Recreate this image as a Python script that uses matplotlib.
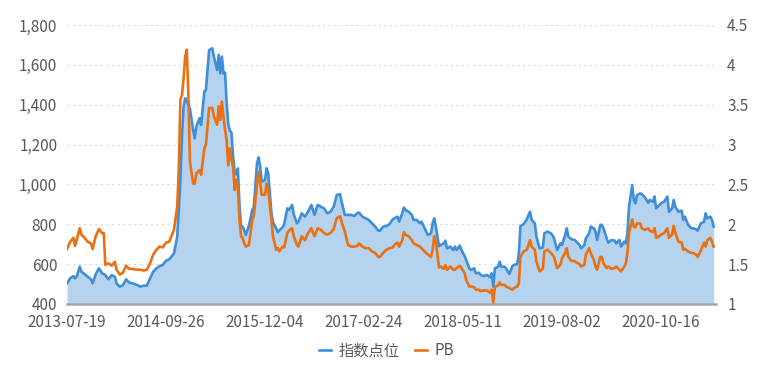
"""
指数点位 与 PB 走势图 (周数据, 2013-07-19 起)
"""

import numpy as np
import matplotlib
matplotlib.use('Agg')
import matplotlib.pyplot as plt
from matplotlib.ticker import FuncFormatter, MultipleLocator

plt.rcParams['font.family'] = ['Noto Sans CJK SC', 'DejaVu Sans']

# DATOS (semana desde 2013-07-19, índice, PB)
semanas = [0, 2, 4, 5, 6, 8, 9, 11, 13, 15, 16, 18, 20, 22, 23, 24, 26, 28, 30, 31,
           33, 35, 37, 39, 41, 44, 46, 48, 50, 52, 54, 56, 58, 60, 62, 64, 67, 69, 70, 71,
           72, 73, 74, 75, 76, 77, 79, 80, 81, 83, 84, 86, 87, 89, 91, 92, 94, 95, 96, 97,
           98, 99, 100, 101, 102, 103, 104, 105, 106, 107, 108, 109, 110, 111, 112, 114, 116, 117, 119, 120,
           121, 122, 124, 125, 126, 128, 129, 131, 132, 133, 135, 136, 138, 139, 141, 142, 144, 145, 147, 149,
           151, 153, 155, 157, 159, 161, 163, 165, 167, 169, 171, 172, 174, 176, 178, 180, 182, 183, 185, 187,
           189, 191, 193, 195, 196, 198, 200, 202, 204, 205, 207, 208, 210, 211, 212, 214, 216, 217, 219, 221,
           222, 224, 226, 228, 229, 230, 231, 233, 234, 236, 237, 238, 240, 242, 243, 244, 246, 247, 249, 250,
           252, 253, 255, 256, 258, 259, 261, 263, 265, 266, 267, 268, 270, 271, 272, 274, 275, 277, 279, 280,
           282, 283, 284, 286, 288, 290, 291, 293, 294, 296, 298, 299, 301, 303, 304, 305, 307, 309, 310, 312,
           313, 314, 316, 318, 319, 321, 322, 324, 325, 327, 328, 330, 331, 332, 334, 335, 336, 338, 339, 341,
           343, 344, 346, 347, 349, 350, 351, 352, 354, 355, 356, 357, 359, 360, 362, 364, 365, 367, 368, 369,
           371, 372, 374, 376, 377, 379, 380, 381, 383, 385, 386, 387, 389, 391, 392, 394, 395, 397, 399, 400,
           401, 403, 404, 405]

indice = [504, 529, 540, 529, 537, 587, 562, 550, 537, 524, 504, 550, 579, 554, 550, 545, 524, 545, 537, 504,
          487, 495, 524, 507, 504, 495, 487, 492, 492, 529, 562, 579, 590, 596, 617, 624, 654, 738, 872, 1022,
          1240, 1390, 1432, 1420, 1398, 1380, 1273, 1231, 1290, 1332, 1298, 1466, 1474, 1674, 1683, 1641, 1574, 1650, 1557, 1641,
          1557, 1560, 1407, 1300, 1270, 1260, 1139, 1060, 1050, 1080, 900, 790, 788, 770, 746, 795, 872, 888, 1106, 1136,
          1089, 1014, 1022, 1081, 1056, 860, 810, 780, 760, 770, 785, 800, 880, 872, 897, 850, 805, 813, 855, 838,
          863, 897, 847, 897, 888, 880, 855, 863, 888, 947, 951, 913, 847, 847, 847, 842, 858, 858, 838, 830,
          822, 805, 788, 768, 768, 788, 791, 801, 825, 830, 838, 813, 855, 884, 872, 863, 847, 822, 822, 805,
          813, 780, 746, 755, 805, 830, 788, 690, 696, 704, 718, 679, 688, 671, 688, 671, 693, 671, 641, 621,
          579, 571, 579, 554, 557, 546, 540, 546, 534, 554, 487, 579, 587, 612, 587, 587, 579, 550, 590, 596,
          601, 654, 791, 801, 825, 863, 822, 805, 738, 679, 683, 755, 763, 755, 746, 730, 671, 704, 696, 746,
          780, 738, 725, 721, 713, 696, 679, 696, 730, 755, 788, 780, 763, 721, 797, 797, 780, 730, 708, 721,
          718, 704, 721, 688, 713, 704, 755, 888, 997, 922, 905, 947, 955, 951, 935, 908, 922, 913, 939, 880,
          897, 905, 913, 939, 863, 880, 922, 888, 863, 868, 822, 838, 797, 780, 780, 775, 768, 805, 813, 855,
          830, 838, 822, 788]

pb = [1.69, 1.78, 1.83, 1.73, 1.80, 1.95, 1.87, 1.83, 1.78, 1.76, 1.69, 1.85, 1.94, 1.89, 1.89, 1.49, 1.51, 1.48, 1.53, 1.43,
      1.37, 1.39, 1.48, 1.44, 1.44, 1.43, 1.43, 1.42, 1.43, 1.51, 1.62, 1.68, 1.72, 1.71, 1.77, 1.78, 1.93, 2.22, 2.68, 3.56,
      3.62, 3.83, 4.10, 4.19, 3.64, 2.78, 2.51, 2.51, 2.64, 2.68, 2.62, 2.95, 3.00, 3.46, 3.46, 3.35, 3.25, 3.48, 3.31, 3.54,
      3.35, 3.18, 3.06, 2.74, 2.95, 2.81, 2.72, 2.43, 2.56, 2.47, 2.06, 1.85, 1.83, 1.76, 1.72, 1.74, 2.06, 2.10, 2.51, 2.66,
      2.51, 2.37, 2.37, 2.51, 2.43, 2.06, 1.85, 1.68, 1.70, 1.66, 1.72, 1.71, 1.89, 1.92, 1.95, 1.85, 1.74, 1.72, 1.85, 1.80,
      1.89, 1.95, 1.85, 1.95, 1.93, 1.89, 1.87, 1.89, 1.94, 2.08, 2.10, 2.03, 1.91, 1.74, 1.72, 1.72, 1.73, 1.76, 1.72, 1.70,
      1.70, 1.66, 1.64, 1.59, 1.59, 1.64, 1.68, 1.70, 1.71, 1.74, 1.77, 1.72, 1.80, 1.90, 1.87, 1.85, 1.80, 1.76, 1.74, 1.72,
      1.70, 1.66, 1.62, 1.59, 1.68, 1.85, 1.78, 1.46, 1.47, 1.44, 1.49, 1.43, 1.47, 1.43, 1.43, 1.45, 1.48, 1.45, 1.39, 1.30,
      1.22, 1.22, 1.21, 1.18, 1.18, 1.16, 1.17, 1.17, 1.14, 1.18, 1.02, 1.22, 1.23, 1.27, 1.24, 1.24, 1.22, 1.20, 1.18, 1.20,
      1.22, 1.26, 1.59, 1.66, 1.68, 1.80, 1.72, 1.68, 1.53, 1.41, 1.44, 1.66, 1.68, 1.64, 1.62, 1.59, 1.45, 1.49, 1.57, 1.64,
      1.70, 1.59, 1.54, 1.54, 1.52, 1.50, 1.47, 1.49, 1.62, 1.70, 1.64, 1.55, 1.47, 1.43, 1.59, 1.59, 1.51, 1.45, 1.47, 1.44,
      1.45, 1.47, 1.43, 1.41, 1.47, 1.51, 1.64, 1.89, 2.06, 1.97, 1.96, 2.01, 2.01, 1.95, 1.93, 1.95, 1.92, 1.90, 1.95, 1.83,
      1.85, 1.87, 1.89, 1.95, 1.83, 1.87, 1.98, 1.89, 1.78, 1.77, 1.68, 1.69, 1.66, 1.64, 1.64, 1.62, 1.59, 1.67, 1.77, 1.72,
      1.80, 1.83, 1.78, 1.72]

etiquetas_x = ['2013-07-19', '2014-09-26', '2015-12-04', '2017-02-24',
               '2018-05-11', '2019-08-02', '2020-10-16']

AZUL = '#3F8FD8'
RELLENO = '#B5D3EE'
NARANJA = '#EB700F'
GRIS_TXT = '#595959'

# GRÁFICO
fig = plt.figure(figsize=(7.73, 3.73), dpi=100)
ax = fig.add_axes([0.0867, 0.185, 0.8396, 0.748])
ax2 = ax.twinx()

ax.fill_between(semanas, indice, 400, color=RELLENO, linewidth=0, zorder=1)
ax.plot(semanas, indice, color=AZUL, linewidth=1.9, zorder=2, label='指数点位')
ax2.plot(semanas, pb, color=NARANJA, linewidth=1.9, zorder=3, label='PB')

ax.set_xlim(0, 406.5)
ax.set_ylim(400, 1800)
ax2.set_ylim(1, 4.5)

ax.yaxis.set_major_locator(MultipleLocator(200))
ax.yaxis.set_major_formatter(FuncFormatter(lambda v, p: f'{v:,.0f}'))
ax2.yaxis.set_major_locator(MultipleLocator(0.5))
ax2.yaxis.set_major_formatter(FuncFormatter(lambda v, p: f'{v:g}'))

ax.set_xticks(np.arange(len(etiquetas_x)) * 62)
ax.set_xticklabels(etiquetas_x)

# grid punteado
for v in range(600, 1801, 200):
    ax.axhline(v, color='#D9D9D9', linewidth=0.8, linestyle=(0, (2, 3)), zorder=0)

for a in (ax, ax2):
    for s in a.spines.values():
        s.set_visible(False)
    a.tick_params(length=0, labelsize=11, labelcolor=GRIS_TXT)
ax.tick_params(axis='y', pad=7)
ax2.tick_params(axis='y', pad=8)
ax.tick_params(axis='x', pad=7)

ax.spines['bottom'].set_visible(True)
ax.spines['bottom'].set_color('#A6A6A6')
ax.spines['bottom'].set_linewidth(1.8)
ax.spines['bottom'].set_zorder(4)

h1, l1 = ax.get_legend_handles_labels()
h2, l2 = ax2.get_legend_handles_labels()
fig.legend(h1 + h2, l1 + l2, loc='center', bbox_to_anchor=(0.5, 0.059), ncol=2,
           frameon=False, fontsize=11, handlelength=0.8, columnspacing=1.0,
           handletextpad=0.5, labelcolor=GRIS_TXT)

plt.savefig('out.png', dpi=100)
plt.close()
